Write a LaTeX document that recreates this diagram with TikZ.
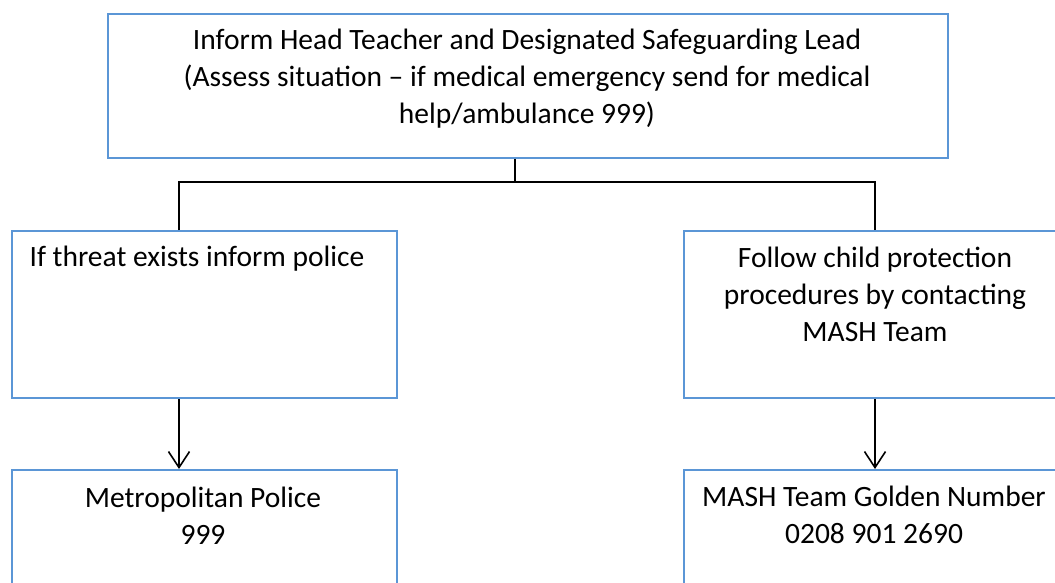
\documentclass[tikz,border=0pt]{standalone}
\usepackage{fontspec}
\setmainfont{Carlito}
\usetikzlibrary{arrows.meta}
\definecolor{boxblue}{RGB}{91,150,214}
\tikzset{
  box/.style={draw=boxblue, line width=2pt, rectangle, inner sep=0pt, anchor=north west},
  txt/.style={align=center, font=\fontsize{29.5}{37}\selectfont, inner sep=0pt},
  conn/.style={draw=black, line width=1.7pt},
  arr/.style={conn, -{Straight Barb[length=16pt,width=21pt,line width=1.6pt]}}
}
\begin{document}
\begin{tikzpicture}[x=1pt,y=-1pt]
\useasboundingbox (0,0) rectangle (1055,583);
\clip (0,0) rectangle (1055,583);
\fill[white] (0,0) rectangle (1055,583);
% boxes
\node[box, minimum width=840pt, minimum height=144pt] (top) at (107,13) {};
\node[box, minimum width=385pt, minimum height=167pt] (l1) at (11,230) {};
\node[box, minimum width=385pt, minimum height=167pt] (r1) at (683,230) {};
\node[box, minimum width=385pt, minimum height=150pt] (l2) at (11,469) {};
\node[box, minimum width=385pt, minimum height=150pt] (r2) at (683,469) {};
% texts
\node[txt] (ttop) at (527,79) {Inform Head Teacher and Designated Safeguarding Lead\\(Assess situation -- if medical emergency send for medical\\help/ambulance 999)};
\node[txt] (tl1) at (197,259) {If threat exists inform police};
\node[txt] (tr1) at (875,294) {Follow child protection\\procedures by contacting\\MASH Team};
\node[txt] (tl2) at (203,516) {Metropolitan Police\\999};
\node[txt] (tr2) at (874,515) {MASH Team Golden Number\\0208 901 2690};
% connector junctions
\coordinate (jm) at (515,182);
\coordinate (jl) at (179,182);
\coordinate (jr) at (875,182);
\draw[conn] (top.south -| jm) -- (jm);
\draw[conn, line join=miter] (l1.north -| jl) -- (jl) -- (jr) -- (r1.north -| jr);
\draw[arr] (l1.south -| jl) -- (l2.north -| jl);
\draw[arr] (r1.south -| jr) -- (r2.north -| jr);
\end{tikzpicture}
\end{document}
